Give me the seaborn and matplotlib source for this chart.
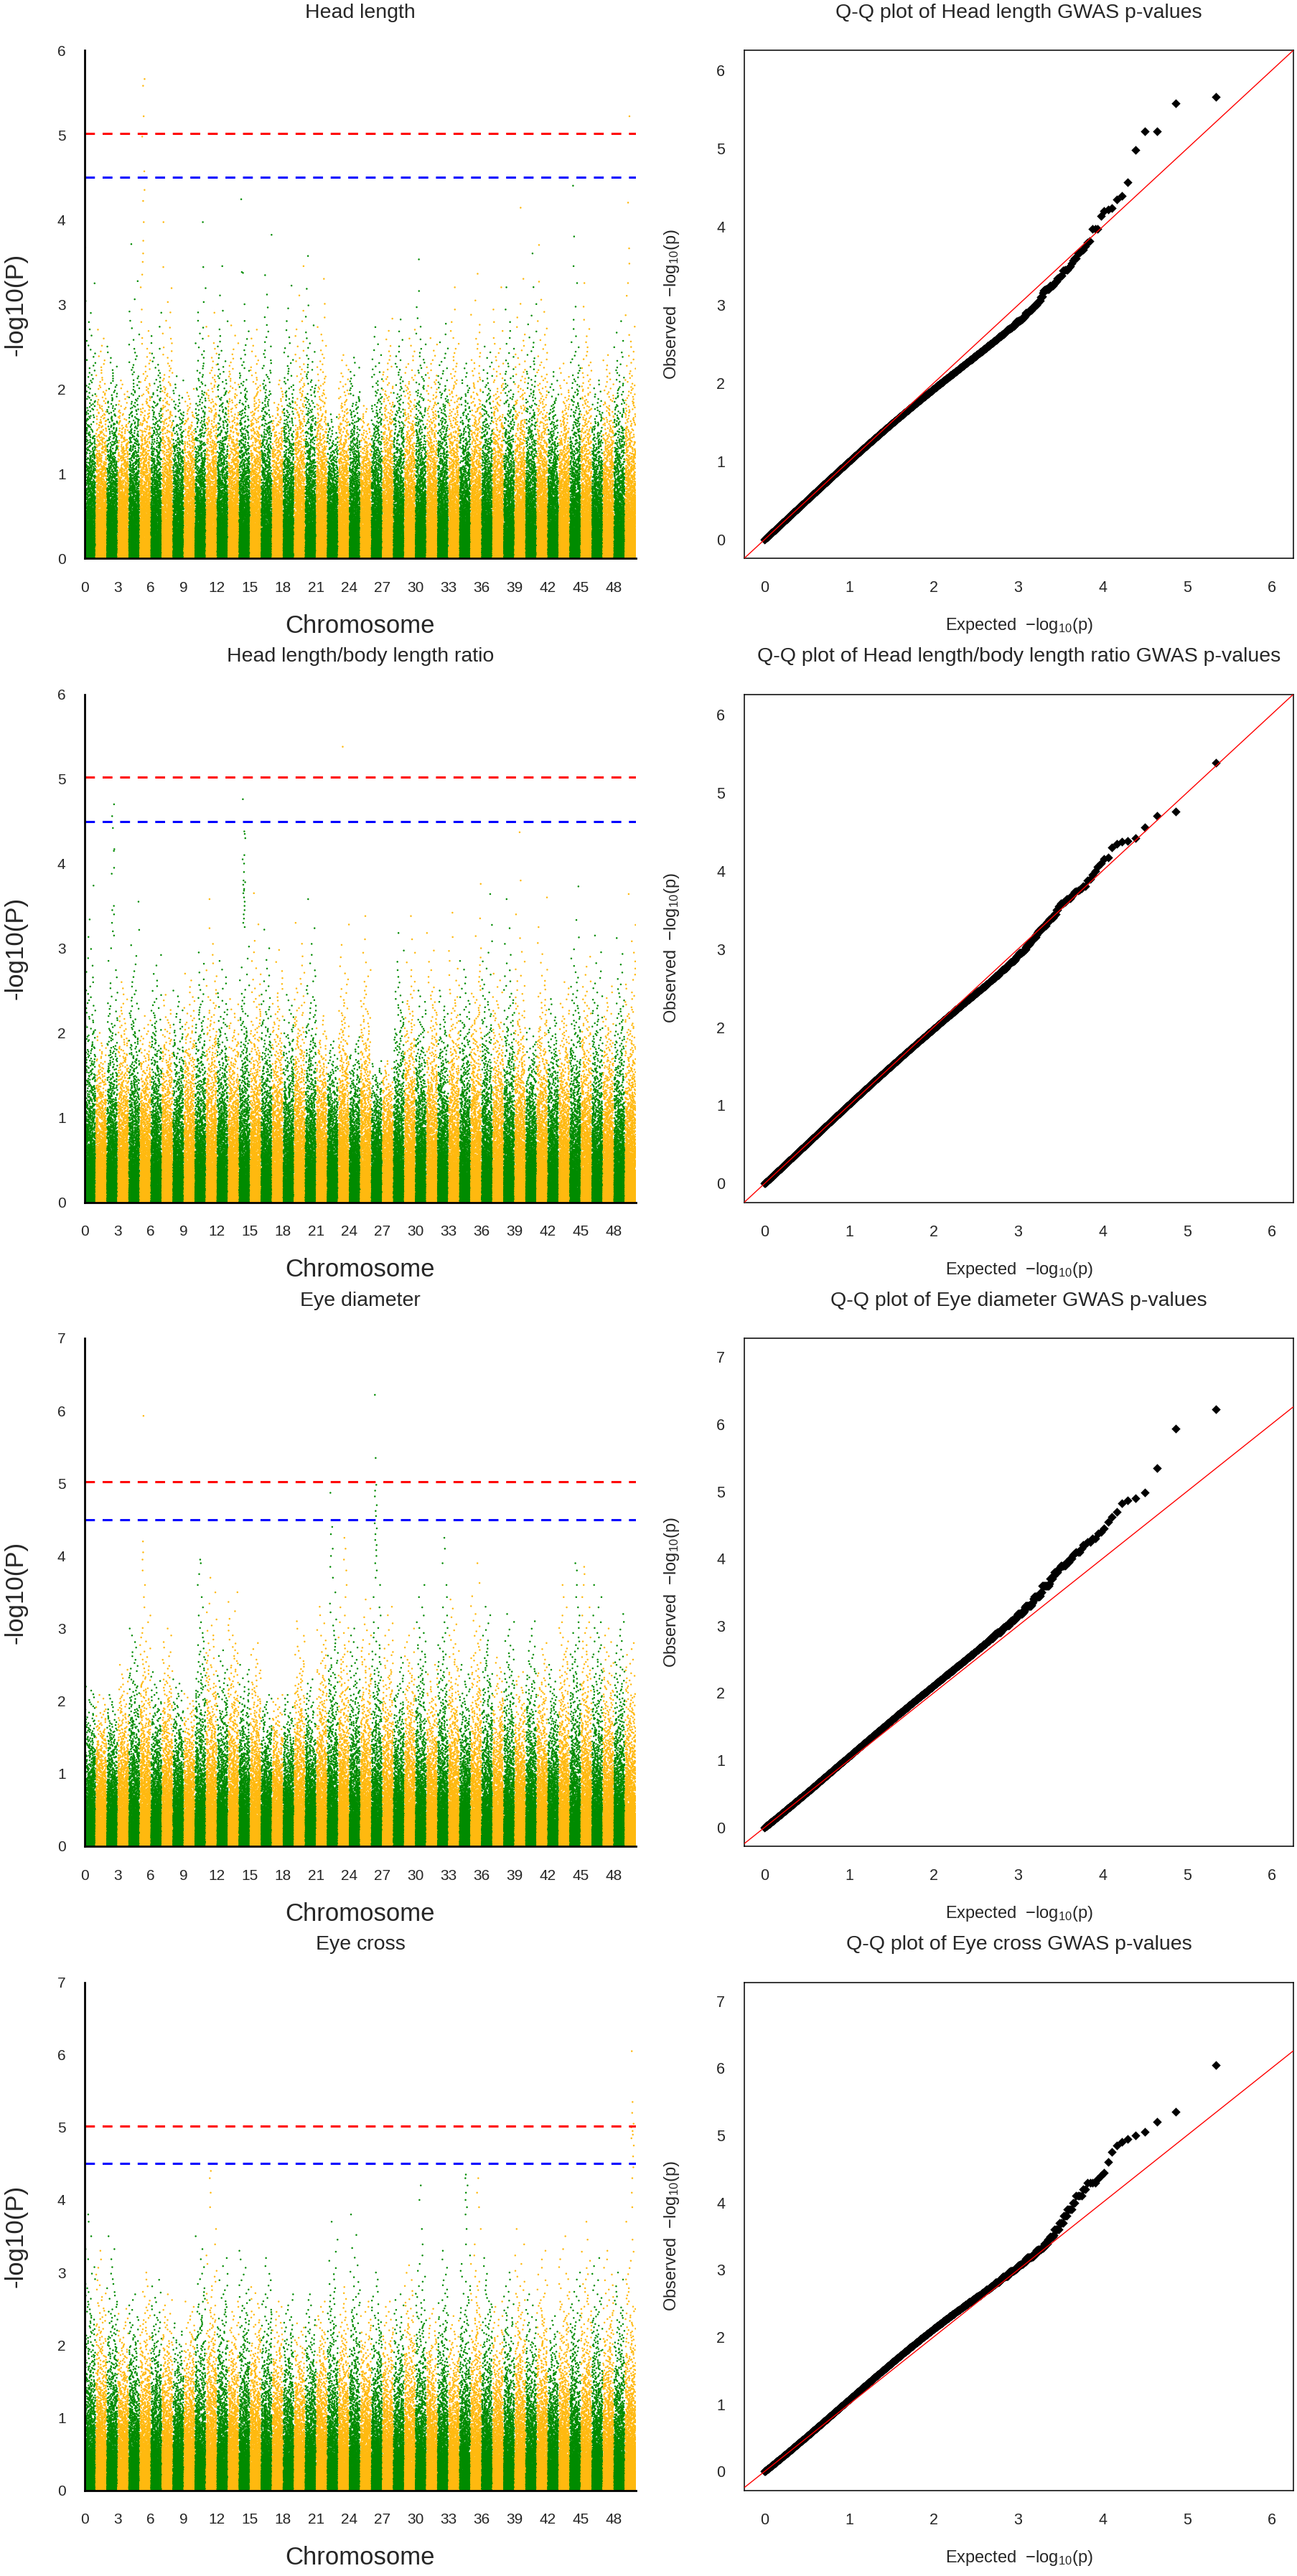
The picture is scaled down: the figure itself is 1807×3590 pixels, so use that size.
import numpy as np
import pandas as pd
import seaborn as sns
import matplotlib
matplotlib.use("Agg")
from matplotlib import pyplot as plt

# ---- data ----
traits = ["Head length", "Head length/body length ratio", "Eye diameter", "Eye cross"]

n_chrom = 50
n_snp_per_chr = 2200

# tallest ordinary (non-streak) SNP of each chromosome (0..49), -log10(P)
peak_head_length = [3.67, 2.7, 2.5, 2.1, 3.71, 3.2, 2.9, 3.97, 2.15, 2.0,
                    3.97, 2.9, 3.45, 2.75, 3.0, 2.7, 3.82, 2.1, 3.22, 3.45,
                    3.57, 3.3, 1.7, 2.4, 2.37, 1.8, 2.73, 2.83, 2.82, 2.7,
                    3.53, 2.6, 2.77, 3.2, 2.3, 3.36, 2.5, 3.2, 3.2, 3.3,
                    3.6, 3.7, 2.2, 2.3, 3.25, 3.25, 2.1, 2.4, 2.8, 3.1]
peak_head_ratio = [3.74, 2.0, 3.0, 2.6, 3.55, 2.2, 2.92, 2.45, 2.5, 2.7,
                   2.95, 3.58, 2.85, 2.4, 3.25, 3.65, 3.22, 2.98, 2.45, 3.3,
                   3.58, 2.2, 1.9, 3.28, 1.95, 3.38, 1.6, 1.6, 3.18, 3.38,
                   2.5, 3.18, 2.5, 3.42, 2.85, 3.76, 3.64, 2.7, 3.58, 3.4,
                   2.05, 3.6, 2.4, 2.6, 3.73, 2.9, 3.15, 2.55, 3.12, 3.64]
peak_eye_diameter = [2.2, 2.0, 2.0, 2.5, 3.0, 3.6, 2.4, 3.0, 2.3, 2.1,
                     3.6, 3.7, 2.7, 3.5, 2.5, 2.8, 2.0, 1.9, 2.0, 3.1,
                     2.3, 3.3, 3.7, 3.6, 3.0, 3.4, 3.6, 3.3, 2.6, 3.0,
                     3.6, 2.5, 3.6, 3.4, 2.5, 3.9, 3.3, 2.6, 3.2, 2.4,
                     3.1, 2.8, 2.5, 3.6, 3.6, 3.6, 3.6, 3.0, 3.2, 2.8]
peak_eye_cross = [3.5, 3.3, 3.5, 2.5, 2.7, 3.0, 2.9, 2.7, 2.3, 2.6,
                  3.5, 3.6, 3.2, 2.6, 3.3, 2.8, 3.2, 2.6, 2.7, 2.3,
                  2.7, 2.6, 3.7, 2.8, 3.8, 2.6, 3.0, 2.6, 2.7, 3.1,
                  3.6, 2.5, 3.3, 2.4, 3.6, 3.6, 3.2, 2.6, 3.0, 3.6,
                  2.7, 3.3, 2.4, 3.5, 3.0, 3.7, 3.2, 3.3, 3.0, 3.7]

# SNPs standing out in the peak streaks: chromosome, -log10(P)
hits_chr_head_length = [5] * 12 + [49] * 5 + [14] * 3 + [44] * 3 + [39]
hits_val_head_length = [5.66, 5.58, 5.22, 4.98, 4.57, 4.35, 4.22, 3.97, 3.75, 3.6, 3.5, 3.35,
                        5.22, 4.2, 3.66, 3.48, 3.25,
                        4.24, 3.38, 3.37,
                        4.4, 3.8, 3.45,
                        4.14]
hits_chr_head_ratio = [2] * 13 + [14] * 21 + [23] + [39] * 2
hits_val_head_ratio = [4.70, 4.56, 4.42, 4.17, 4.15, 3.95, 3.88, 3.5, 3.45, 3.4, 3.3, 3.2, 3.15,
                       4.76, 4.38, 4.35, 4.30, 4.10, 4.05, 4.0, 3.9, 3.8, 3.78, 3.75, 3.7,
                       3.68, 3.65, 3.6, 3.55, 3.5, 3.45, 3.4, 3.35, 3.3,
                       5.38,
                       4.37, 3.8]
hits_chr_eye_diameter = [26] * 18 + [5] * 5 + [22] * 6 + [23] * 4 + [32] * 3 + [10] * 3 + [44] * 2 + [45] * 2
hits_val_eye_diameter = [6.22, 5.35, 4.98, 4.90, 4.82, 4.70, 4.62, 4.55, 4.45, 4.38, 4.30, 4.22,
                         4.15, 4.08, 4.0, 3.9, 3.8, 3.7,
                         5.93, 4.2, 4.05, 3.95, 3.8,
                         4.87, 4.4, 4.3, 4.1, 4.0, 3.85,
                         4.25, 4.1, 3.95, 3.8,
                         4.25, 4.1, 3.9,
                         3.95, 3.9, 3.75,
                         3.9, 3.8,
                         3.85, 3.75]
hits_chr_eye_cross = [49] * 14 + [11] * 4 + [34] * 7 + [35] * 3 + [30] * 2 + [0] * 2
hits_val_eye_cross = [6.05, 5.35, 5.20, 5.05, 5.00, 4.95, 4.90, 4.85, 4.75, 4.6, 4.45, 4.3, 4.1, 3.9,
                      4.4, 4.3, 4.1, 3.9,
                      4.35, 4.3, 4.2, 4.1, 4.0, 3.9, 3.8,
                      4.3, 4.1, 3.9,
                      4.2, 4.0,
                      3.8, 3.7]

# genomic inflation seen in each Q-Q panel (bulk bending above the diagonal)
inflation = [0.04, 0.065, 0.15, 0.13]

y_top = [6, 6, 7, 7]
suggestive = 4.5
genome_wide = 5.02

peaks = [peak_head_length, peak_head_ratio, peak_eye_diameter, peak_eye_cross]
hits_chr = [hits_chr_head_length, hits_chr_head_ratio, hits_chr_eye_diameter, hits_chr_eye_cross]
hits_val = [hits_val_head_length, hits_val_head_ratio, hits_val_eye_diameter, hits_val_eye_cross]

chrom_colors = {0: "#008B00", 1: "#FFB90F"}


def hash01(a):
    # deterministic scatter of positions along a chromosome
    return np.mod(np.sin(a) * 43758.5453, 1.0)


def bend_top(v, p):
    # monotone map of the null quantiles whose top value lands on the read peak p
    vmax = v[0]
    if p >= vmax:
        t = 0.75 * vmax
        return np.where(v > t, t + (v - t) * (p - t) / (vmax - t), v)
    r = max(p / vmax, 0.37)
    q = min(2.0, -0.95 / np.log(r))
    return v * r ** ((v / vmax) ** q)


def build_table(peak, h_chr, h_val, a, trait_no):
    rank = np.arange(1, n_snp_per_chr + 1)
    v = -np.log10((rank - 0.5) / n_snp_per_chr)
    v = v * (1 + a * v)
    rows = []
    for k in range(n_chrom):
        y = bend_top(v, peak[k])
        seed = k * 78.233 + trait_no * 311.7
        i = np.arange(len(y))
        x = k + 0.03 + 0.94 * hash01(i * 12.9898 + seed)
        extra = np.array([val for c, val in zip(h_chr, h_val) if c == k])
        if len(extra):
            j = np.arange(len(extra))
            centre = k + 0.3 + 0.4 * hash01(seed * 0.37 + 1.3)
            xs = centre + 0.25 * (hash01(j * 4.1414 + seed * 1.7) - 0.5)
            x = np.concatenate([x, xs])
            y = np.concatenate([y, extra])
        rows.append(pd.DataFrame({"pos": x, "logp": y, "band": k % 2}))
    return pd.concat(rows, ignore_index=True)


def manhattan(ax, df, top, title):
    sns.scatterplot(data=df, x="pos", y="logp", hue="band", palette=chrom_colors,
                    s=3.2, linewidth=0, legend=False, ax=ax, rasterized=True)
    ax.axhline(genome_wide, color="red", lw=2.2, dashes=(4.5, 3.5))
    ax.axhline(suggestive, color="blue", lw=2.2, dashes=(4.5, 3.5))
    ax.set_xlim(0, n_chrom)
    ax.set_ylim(0, top)
    ax.set_xticks(range(0, n_chrom + 1))
    ax.set_xticklabels([str(i) if i % 3 == 0 else "" for i in range(n_chrom + 1)])
    ax.set_yticks(range(0, top + 1))
    sns.despine(ax=ax)
    for sp in ["left", "bottom"]:
        ax.spines[sp].set_linewidth(2.0)
        ax.spines[sp].set_color("black")
    ax.tick_params(axis="both", length=10, width=2.0, labelsize=15, direction="out")
    ax.tick_params(axis="x", pad=13)
    ax.tick_params(axis="y", pad=9)
    ax.set_xlabel("Chromosome", fontsize=25)
    ax.set_ylabel("-log10(P)", fontsize=25)
    ax.xaxis.set_label_coords(0.5, -0.133)
    ax.yaxis.set_label_coords(-0.125, 0.5)
    ax.xaxis.label.set_va("center")
    ax.yaxis.label.set_va("center")
    ax.text(0.5, 1.074, title, transform=ax.transAxes, ha="center", va="center", fontsize=20.5)


def qq(ax, logp, top, title):
    obs = np.sort(logp)[::-1]
    n = len(obs)
    exp = -np.log10((np.arange(1, n + 1) - 0.5) / n)
    # one marker per ~half pixel along the expected axis
    _, keep = np.unique(np.round(exp / 0.004), return_index=True)
    sns.scatterplot(x=exp[keep], y=obs[keep], marker="D", color="black", s=40,
                    linewidth=0, ax=ax, zorder=2)
    ax.axline((0, 0), slope=1, color="red", lw=1.0, zorder=3)
    ax.set_xlim(-0.24, 6.26)
    if top == 6:
        ax.set_ylim(-0.24, 6.26)
    else:
        ax.set_ylim(-0.28, 7.28)
    ax.set_xticks(range(0, 7))
    ax.set_yticks(range(0, top + 1))
    for sp in ax.spines.values():
        sp.set_linewidth(1.1)
        sp.set_color("black")
    ax.tick_params(axis="both", length=9.4, width=0.95, labelsize=15.5, direction="out")
    ax.tick_params(axis="x", pad=13)
    ax.tick_params(axis="y", pad=10)
    ax.set_xlabel("Expected  $\\mathregular{-log_{10}(p)}$", fontsize=17)
    ax.set_ylabel("Observed  $\\mathregular{-log_{10}(p)}$", fontsize=17)
    ax.xaxis.set_label_coords(0.5, -0.133)
    ax.yaxis.set_label_coords(-0.132, 0.5)
    ax.xaxis.label.set_va("center")
    ax.yaxis.label.set_va("center")
    ax.text(0.5, 1.074, "Q-Q plot of " + title + " GWAS p-values", transform=ax.transAxes,
            ha="center", va="center", fontsize=20.5)


sns.set_style("white")
plt.rcParams["font.family"] = ["Liberation Sans", "DejaVu Sans"]
plt.rcParams["mathtext.fontset"] = "custom"
plt.rcParams["mathtext.rm"] = "Liberation Sans"
plt.rcParams["mathtext.it"] = "Liberation Sans:italic"

W, H = 1808, 3590
fig = plt.figure(figsize=(W / 100, H / 100), dpi=100)
row_h = H / 4

for r, trait in enumerate(traits):
    bottom = (H - (r * row_h + 778)) / H
    height = 708 / H
    ax_m = fig.add_axes([118 / W, bottom, 768 / W, height])
    ax_q = fig.add_axes([1037 / W, bottom, 765 / W, height])
    df = build_table(peaks[r], hits_chr[r], hits_val[r], inflation[r], r)
    manhattan(ax_m, df, y_top[r], trait)
    qq(ax_q, df["logp"].to_numpy(), y_top[r], trait)

fig.savefig("out.png", dpi=100, facecolor="white")
